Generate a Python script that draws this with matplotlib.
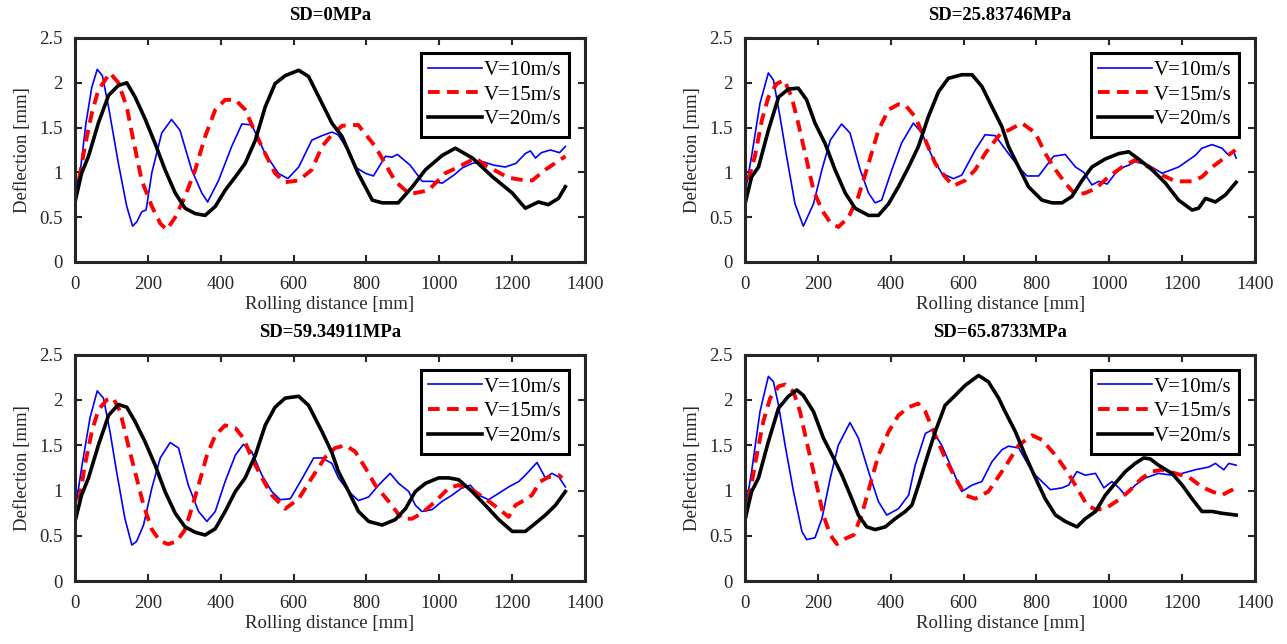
import matplotlib.pyplot as plt

plt.rcParams['font.family'] = ['Liberation Serif', 'DejaVu Serif']

titles = ['SD=0MPa', 'SD=25.83746MPa', 'SD=59.34911MPa', 'SD=65.8733MPa']
labels = ['V=10m/s', 'V=15m/s', 'V=20m/s']

# (rolling distance mm, deflection mm)
sd0_v10 = [(0, 0.80), (14, 1.00), (30, 1.55), (46, 1.95), (61, 2.15), (75, 2.08), (92, 1.73), (119, 1.10),
           (142, 0.62), (158, 0.40), (170, 0.45), (183, 0.56), (195, 0.58), (211, 1.00), (238, 1.44), (265, 1.59),
           (288, 1.47), (320, 1.03), (348, 0.77), (364, 0.67), (394, 0.91), (430, 1.29), (458, 1.54), (485, 1.53),
           (522, 1.21), (558, 0.99), (584, 0.93), (614, 1.06), (650, 1.36), (678, 1.41), (705, 1.45), (722, 1.42),
           (750, 1.24), (769, 1.06), (797, 0.99), (819, 0.96), (852, 1.18), (870, 1.17), (885, 1.20), (920, 1.08),
           (953, 0.90), (980, 0.90), (1008, 0.88), (1040, 0.97), (1063, 1.05), (1090, 1.10), (1118, 1.12),
           (1150, 1.08), (1181, 1.06), (1210, 1.10), (1236, 1.21), (1250, 1.24), (1264, 1.16), (1280, 1.22),
           (1305, 1.25), (1330, 1.22), (1346, 1.29)]
sd0_v15 = [(0, 0.72), (14, 0.99), (27, 1.29), (46, 1.66), (64, 1.92), (96, 2.11), (119, 2.00), (142, 1.73),
           (160, 1.36), (183, 0.91), (211, 0.62), (234, 0.43), (252, 0.36), (275, 0.50), (302, 0.73), (330, 1.03),
           (357, 1.40), (385, 1.70), (412, 1.81), (440, 1.81), (467, 1.70), (495, 1.44), (522, 1.21), (549, 0.99),
           (577, 0.89), (614, 0.91), (650, 1.03), (678, 1.29), (705, 1.42), (733, 1.52), (777, 1.53), (824, 1.29),
           (879, 0.90), (915, 0.77), (934, 0.77), (970, 0.80), (1016, 0.99), (1052, 1.06), (1099, 1.16),
           (1126, 1.08), (1190, 0.94), (1236, 0.91), (1255, 0.91), (1291, 1.03), (1346, 1.18)]
sd0_v20 = [(0, 0.67), (18, 0.99), (37, 1.18), (64, 1.55), (92, 1.86), (119, 1.97), (142, 2.00), (165, 1.84),
           (192, 1.60), (220, 1.32), (247, 1.03), (275, 0.77), (302, 0.60), (330, 0.54), (357, 0.52), (385, 0.62),
           (412, 0.80), (440, 0.95), (467, 1.10), (495, 1.36), (522, 1.73), (549, 1.99), (577, 2.08), (614, 2.14),
           (641, 2.07), (678, 1.77), (705, 1.55), (733, 1.40), (777, 0.99), (816, 0.69), (843, 0.66), (887, 0.66),
           (926, 0.84), (962, 1.03), (1008, 1.19), (1044, 1.27), (1091, 1.16), (1146, 0.95), (1200, 0.77),
           (1236, 0.60), (1272, 0.67), (1299, 0.64), (1327, 0.71), (1346, 0.84)]

sd25_v10 = [(0, 0.77), (18, 1.18), (41, 1.77), (64, 2.11), (78, 2.03), (96, 1.62), (114, 1.18), (137, 0.65),
            (160, 0.40), (188, 0.65), (211, 1.03), (234, 1.36), (265, 1.54), (288, 1.44), (316, 1.03), (339, 0.77),
            (357, 0.66), (375, 0.69), (403, 1.03), (430, 1.33), (462, 1.55), (485, 1.44), (513, 1.18), (540, 0.99),
            (572, 0.93), (595, 0.97), (632, 1.25), (659, 1.42), (687, 1.41), (723, 1.21), (751, 1.06), (774, 0.96),
            (806, 0.96), (847, 1.18), (879, 1.20), (907, 1.06), (930, 1.00), (952, 0.86), (971, 0.90), (994, 0.87),
            (1026, 1.04), (1053, 1.08), (1071, 1.12), (1108, 1.08), (1145, 0.99), (1190, 1.06), (1236, 1.19),
            (1254, 1.27), (1282, 1.31), (1309, 1.27), (1328, 1.19), (1341, 1.23), (1348, 1.16)]
sd25_v15 = [(0, 0.70), (14, 0.99), (27, 1.18), (46, 1.58), (64, 1.84), (87, 1.99), (108, 2.03), (128, 1.84),
            (146, 1.55), (165, 1.21), (188, 0.80), (211, 0.58), (234, 0.44), (256, 0.39), (284, 0.50), (311, 0.73),
            (339, 1.10), (366, 1.47), (394, 1.70), (421, 1.76), (440, 1.75), (467, 1.62), (495, 1.36), (522, 1.10),
            (549, 0.95), (572, 0.85), (604, 0.91), (632, 1.03), (659, 1.21), (687, 1.36), (705, 1.45), (723, 1.47),
            (760, 1.55), (797, 1.44), (824, 1.21), (852, 1.03), (879, 0.88), (907, 0.75), (934, 0.77), (962, 0.82),
            (998, 0.95), (1035, 1.06), (1071, 1.14), (1108, 1.06), (1145, 0.97), (1181, 0.90), (1227, 0.90),
            (1254, 0.95), (1282, 1.06), (1309, 1.14), (1346, 1.25)]
sd25_v20 = [(0, 0.65), (18, 0.95), (37, 1.06), (64, 1.47), (92, 1.84), (119, 1.93), (146, 1.94), (169, 1.81),
            (192, 1.55), (220, 1.32), (247, 1.03), (275, 0.77), (302, 0.60), (339, 0.52), (366, 0.52), (394, 0.65),
            (421, 0.84), (449, 1.06), (476, 1.29), (503, 1.62), (531, 1.90), (558, 2.05), (595, 2.09), (623, 2.09),
            (650, 1.96), (678, 1.73), (705, 1.51), (723, 1.29), (751, 1.06), (778, 0.84), (815, 0.69), (843, 0.66),
            (870, 0.66), (897, 0.73), (925, 0.91), (952, 1.06), (989, 1.15), (1026, 1.21), (1053, 1.23),
            (1080, 1.15), (1117, 1.03), (1154, 0.88), (1190, 0.69), (1227, 0.58), (1245, 0.60), (1264, 0.71),
            (1291, 0.67), (1319, 0.75), (1348, 0.89)]

sd59_v10 = [(0, 0.77), (18, 1.25), (41, 1.80), (61, 2.10), (78, 2.02), (96, 1.65), (114, 1.21), (137, 0.69),
            (156, 0.40), (169, 0.44), (188, 0.62), (211, 1.03), (234, 1.36), (261, 1.53), (284, 1.47), (311, 1.06),
            (339, 0.77), (362, 0.66), (385, 0.77), (412, 1.10), (440, 1.39), (462, 1.51), (485, 1.43), (513, 1.17),
            (540, 0.99), (563, 0.90), (591, 0.91), (623, 1.13), (655, 1.36), (678, 1.36), (705, 1.30), (723, 1.14),
            (751, 0.99), (778, 0.89), (806, 0.93), (833, 1.06), (865, 1.19), (888, 1.08), (916, 0.99), (934, 0.84),
            (952, 0.77), (980, 0.79), (1007, 0.88), (1035, 0.95), (1062, 1.03), (1085, 1.06), (1108, 0.95),
            (1135, 0.90), (1163, 0.97), (1190, 1.04), (1218, 1.10), (1236, 1.17), (1268, 1.31), (1291, 1.14),
            (1309, 1.19), (1328, 1.15), (1346, 1.04)]
sd59_v15 = [(0, 0.69), (14, 0.95), (27, 1.28), (46, 1.65), (64, 1.89), (87, 2.00), (105, 2.02), (124, 1.87),
            (146, 1.50), (169, 1.14), (188, 0.84), (211, 0.57), (234, 0.44), (256, 0.41), (279, 0.44), (302, 0.57),
            (320, 0.80), (339, 1.06), (362, 1.39), (385, 1.61), (412, 1.72), (440, 1.69), (462, 1.58), (485, 1.36),
            (513, 1.14), (540, 0.95), (577, 0.80), (614, 0.91), (650, 1.14), (687, 1.37), (714, 1.47), (742, 1.50),
            (769, 1.43), (797, 1.25), (824, 1.06), (861, 0.88), (897, 0.69), (925, 0.69), (952, 0.75), (989, 0.88),
            (1026, 1.03), (1053, 1.06), (1090, 1.01), (1126, 0.91), (1163, 0.80), (1190, 0.71), (1209, 0.84),
            (1236, 0.90), (1254, 0.95), (1277, 1.10), (1300, 1.15), (1328, 1.17), (1337, 1.14)]
sd59_v20 = [(0, 0.66), (18, 0.95), (37, 1.14), (64, 1.50), (92, 1.83), (119, 1.95), (142, 1.92), (165, 1.76),
            (192, 1.54), (220, 1.28), (247, 0.99), (275, 0.75), (302, 0.60), (330, 0.54), (357, 0.51), (385, 0.58),
            (412, 0.77), (440, 0.99), (467, 1.14), (495, 1.39), (522, 1.72), (549, 1.92), (577, 2.02), (614, 2.04),
            (641, 1.94), (678, 1.65), (705, 1.42), (723, 1.21), (751, 0.99), (778, 0.77), (806, 0.66), (843, 0.62),
            (879, 0.68), (907, 0.80), (934, 0.99), (962, 1.08), (998, 1.14), (1026, 1.14), (1053, 1.12),
            (1090, 0.99), (1126, 0.84), (1163, 0.68), (1200, 0.55), (1236, 0.55), (1264, 0.64), (1291, 0.73),
            (1319, 0.84), (1346, 0.99)]

sd65_v10 = [(0, 0.77), (18, 1.21), (41, 1.87), (64, 2.26), (78, 2.20), (92, 1.94), (110, 1.50), (133, 0.99),
            (156, 0.55), (169, 0.46), (192, 0.48), (211, 0.69), (234, 1.14), (256, 1.50), (288, 1.75), (311, 1.58),
            (339, 1.21), (366, 0.88), (389, 0.73), (421, 0.80), (449, 0.95), (467, 1.28), (495, 1.63), (513, 1.67),
            (540, 1.50), (568, 1.24), (595, 0.99), (623, 1.06), (650, 1.10), (678, 1.32), (705, 1.45), (723, 1.49),
            (751, 1.47), (778, 1.28), (797, 1.17), (815, 1.10), (838, 1.01), (870, 1.03), (888, 1.06), (911, 1.21),
            (934, 1.17), (962, 1.19), (985, 1.03), (1007, 1.10), (1026, 1.03), (1044, 0.95), (1071, 1.06),
            (1099, 1.14), (1135, 1.19), (1172, 1.17), (1200, 1.19), (1236, 1.23), (1273, 1.26), (1291, 1.30),
            (1314, 1.23), (1328, 1.30), (1348, 1.28)]
sd65_v15 = [(0, 0.69), (14, 0.99), (32, 1.39), (50, 1.76), (69, 2.02), (92, 2.15), (110, 2.17), (133, 2.09),
            (151, 1.87), (169, 1.54), (192, 1.14), (215, 0.73), (234, 0.51), (252, 0.41), (275, 0.47), (298, 0.51),
            (320, 0.73), (343, 1.06), (366, 1.39), (394, 1.65), (421, 1.83), (449, 1.92), (475, 1.96), (495, 1.87),
            (522, 1.61), (549, 1.36), (577, 1.14), (604, 0.95), (632, 0.91), (668, 0.99), (705, 1.21), (723, 1.32),
            (751, 1.50), (788, 1.61), (815, 1.56), (852, 1.39), (884, 1.21), (911, 1.03), (939, 0.84), (962, 0.79),
            (989, 0.80), (1026, 0.90), (1053, 0.99), (1090, 1.14), (1117, 1.21), (1145, 1.23), (1181, 1.19),
            (1218, 1.15), (1254, 1.04), (1282, 0.99), (1309, 0.95), (1328, 0.99), (1348, 1.03)]
sd65_v20 = [(0, 0.68), (18, 0.99), (37, 1.14), (64, 1.54), (92, 1.91), (119, 2.04), (142, 2.11), (160, 2.05),
            (188, 1.87), (215, 1.58), (243, 1.36), (266, 1.17), (289, 0.95), (311, 0.73), (334, 0.60), (357, 0.57),
            (385, 0.60), (412, 0.69), (440, 0.77), (458, 0.84), (476, 1.06), (499, 1.36), (522, 1.65), (549, 1.94),
            (577, 2.05), (604, 2.16), (641, 2.27), (668, 2.20), (696, 2.02), (714, 1.87), (742, 1.65), (769, 1.39),
            (797, 1.14), (824, 0.91), (852, 0.73), (879, 0.66), (911, 0.60), (934, 0.69), (962, 0.77), (989, 0.95),
            (1016, 1.08), (1044, 1.21), (1071, 1.30), (1094, 1.36), (1112, 1.35), (1135, 1.28), (1172, 1.19),
            (1200, 1.06), (1227, 0.91), (1254, 0.77), (1282, 0.77), (1309, 0.75), (1348, 0.73)]

series = [(sd0_v10, sd0_v15, sd0_v20), (sd25_v10, sd25_v15, sd25_v20),
          (sd59_v10, sd59_v15, sd59_v20), (sd65_v10, sd65_v15, sd65_v20)]

fig = plt.figure(figsize=(12.87, 6.44), dpi=100)
positions = [[0.0583, 0.5932, 0.3963, 0.3478], [0.5789, 0.5932, 0.3963, 0.3478],
             [0.0583, 0.0974, 0.3963, 0.3520], [0.5789, 0.0974, 0.3963, 0.3520]]
dark = '#262626'

for pos, title, data in zip(positions, titles, series):
    ax = fig.add_axes(pos)
    blue, red, black = data
    ax.plot([p[0] for p in blue], [p[1] for p in blue], color='#0000ff', lw=1.2, label=labels[0])
    ax.plot([p[0] for p in red], [p[1] for p in red], color='#ff0000', lw=2.8, dashes=(3.0, 1.9), label=labels[1])
    ax.plot([p[0] for p in black], [p[1] for p in black], color='black', lw=2.6, label=labels[2])
    ax.set_xlim(0, 1400)
    ax.set_ylim(0, 2.5)
    ax.set_xticks(range(0, 1401, 200))
    ax.set_yticks([0, 0.5, 1, 1.5, 2, 2.5])
    ax.set_yticklabels(['0', '0.5', '1', '1.5', '2', '2.5'])
    ax.tick_params(direction='in', top=True, right=True, length=5, width=1.5,
                   labelsize=13.5, colors=dark)
    ax.tick_params(axis='x', pad=10)
    ax.tick_params(axis='y', pad=9)
    for s in ax.spines.values():
        s.set_linewidth(2.2)
        s.set_color(dark)
    ax.set_xlabel('Rolling distance [mm]', fontsize=13.5, color=dark, labelpad=2)
    ax.set_ylabel('Deflection [mm]', fontsize=13.5, color=dark, labelpad=6)
    ax.set_title(title, fontsize=13.5, fontweight='bold', pad=13)
    leg = ax.legend(loc='upper right', bbox_to_anchor=(0.969, 0.933), fontsize=15, handlelength=2.6,
                    handletextpad=0.1, labelspacing=0.25, borderpad=0.35, borderaxespad=0,
                    fancybox=False, framealpha=1, edgecolor='black')
    leg.get_frame().set_linewidth(2.2)

fig.savefig('out.png', dpi=100)
